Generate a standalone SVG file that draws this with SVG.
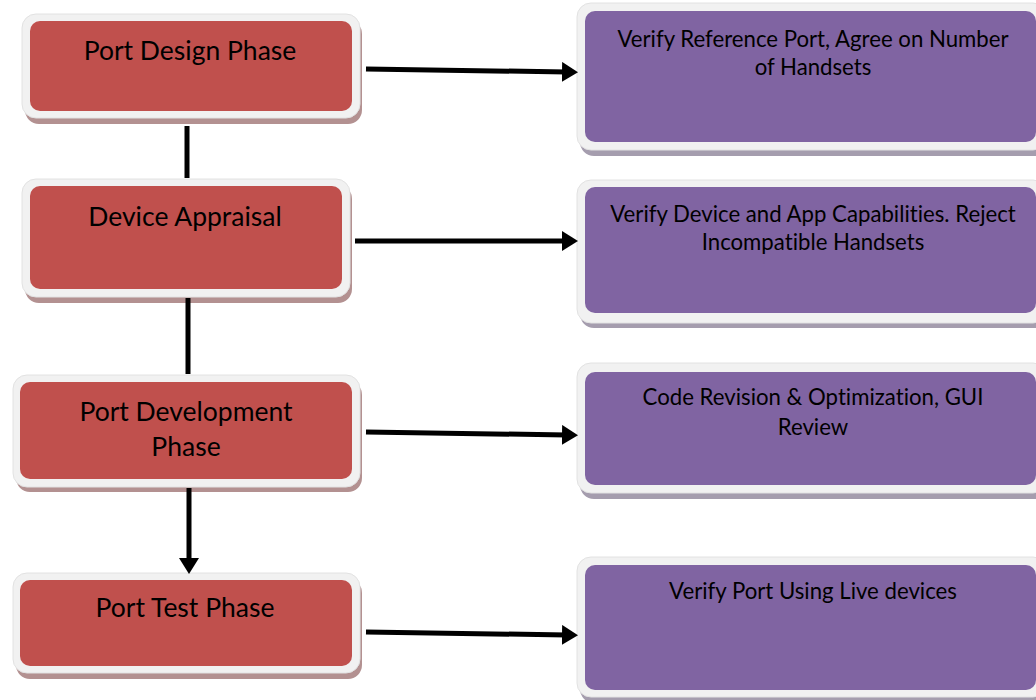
<svg xmlns="http://www.w3.org/2000/svg" width="1036" height="700" viewBox="0 0 1036 700">
<defs>
<style>
.rs{fill:#B39191}
.ps{fill:#A59DAE}
.ob{fill:#F1F1F1;stroke:#E2E2E2;stroke-width:1}
.red{fill:#C0504D}
.pur{fill:#8064A2}
.lt{font-family:"Lato","Open Sans",sans-serif;font-size:26.5px;fill:#000;text-anchor:middle;font-variant-ligatures:none}
.rt{font-family:"Lato","Open Sans",sans-serif;font-size:22.2px;fill:#000;text-anchor:middle;font-variant-ligatures:none}
.c{stroke:#000;stroke-width:5;fill:none}
</style>
<marker id="ah" markerWidth="4" markerHeight="4" refX="1" refY="2" orient="auto" markerUnits="strokeWidth">
<path d="M0,0 L3.2,2 L0,4 Z" fill="#000"/>
</marker>
</defs>
<rect width="1036" height="700" fill="#fff"/>

<g id="n1">
<rect class="rs" x="25" y="20" width="337" height="104" rx="14"/>
<rect class="ob" x="22" y="14" width="338" height="104" rx="14"/>
<rect class="red" x="30" y="21" width="322" height="90" rx="10"/>
<text class="lt" x="190" y="60">Port Design Phase</text>
</g>
<g id="n2">
<rect class="rs" x="25" y="185" width="327" height="118" rx="14"/>
<rect class="ob" x="22" y="179" width="328" height="118" rx="14"/>
<rect class="red" x="30" y="186" width="312" height="103" rx="10"/>
<text class="lt" x="185" y="226">Device Appraisal</text>
</g>
<g id="n3">
<rect class="rs" x="16" y="381" width="346" height="111" rx="14"/>
<rect class="ob" x="13" y="375" width="347" height="112" rx="14"/>
<rect class="red" x="20" y="382" width="332" height="97" rx="10"/>
<text class="lt" x="186" y="421">Port Development</text>
<text class="lt" x="186" y="456">Phase</text>
</g>
<g id="n4">
<rect class="rs" x="16" y="579" width="346" height="100" rx="14"/>
<rect class="ob" x="13" y="573" width="347" height="100" rx="14"/>
<rect class="red" x="20" y="580" width="332" height="86" rx="10"/>
<text class="lt" x="185" y="617">Port Test Phase</text>
</g>

<g id="r1">
<rect class="ps" x="580" y="9" width="470" height="147" rx="14"/>
<rect class="ob" x="577" y="3" width="470" height="147" rx="14"/>
<rect class="pur" x="585" y="11" width="451" height="131" rx="10"/>
<text class="rt" x="813" y="47">Verify Reference Port, Agree on Number</text>
<text class="rt" x="813" y="75">of Handsets</text>
</g>
<g id="r2">
<rect class="ps" x="580" y="186" width="470" height="142" rx="14"/>
<rect class="ob" x="577" y="180" width="470" height="143" rx="14"/>
<rect class="pur" x="585" y="187" width="451" height="126" rx="10"/>
<text class="rt" x="813" y="222">Verify Device and App Capabilities. Reject</text>
<text class="rt" x="813" y="250">Incompatible Handsets</text>
</g>
<g id="r3">
<rect class="ps" x="580" y="369" width="470" height="130" rx="14"/>
<rect class="ob" x="577" y="363" width="470" height="130" rx="14"/>
<rect class="pur" x="585" y="372" width="451" height="113" rx="10"/>
<text class="rt" x="813" y="405">Code Revision &amp; Optimization, GUI</text>
<text class="rt" x="813" y="435">Review</text>
</g>
<g id="r4">
<rect class="ps" x="580" y="563" width="470" height="140" rx="14"/>
<rect class="ob" x="577" y="557" width="470" height="140" rx="14"/>
<rect class="pur" x="585" y="565" width="451" height="125" rx="10"/>
<text class="rt" x="813" y="599">Verify Port Using Live devices</text>
</g>

<g id="connectors">
<line class="c" x1="187" y1="126" x2="187" y2="178"/>
<line class="c" x1="188" y1="298" x2="188" y2="374"/>
<line class="c" x1="189" y1="488" x2="189" y2="563" marker-end="url(#ah)"/>
<line class="c" x1="366" y1="69" x2="567" y2="72" marker-end="url(#ah)"/>
<line class="c" x1="355" y1="241" x2="567" y2="241" marker-end="url(#ah)"/>
<line class="c" x1="366" y1="432" x2="567" y2="435" marker-end="url(#ah)"/>
<line class="c" x1="366" y1="632" x2="567" y2="635" marker-end="url(#ah)"/>
</g>
</svg>
